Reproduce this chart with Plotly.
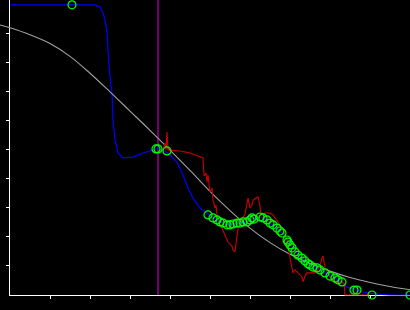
import plotly.graph_objects as go

# Gray smooth reference curve
gray_x = [-0.25, 0, 0.5, 1, 1.5, 2, 2.5, 3, 3.5, 4, 4.5, 5, 5.5, 6, 6.5, 7, 7.5, 8, 8.5, 9, 9.5, 10]
gray_y = [9.28, 9.18, 8.94, 8.64, 8.20, 7.62, 6.98, 6.32, 5.66, 4.98, 4.28, 3.56, 2.90, 2.30, 1.80,
          1.40, 1.08, 0.82, 0.60, 0.43, 0.29, 0.18]

# Blue fitted curve
blue_x = [0, 2.125, 2.25, 2.325, 2.375, 2.425, 2.45, 2.5, 2.55, 2.575, 2.625, 2.7, 2.825, 3.075, 3.325,
          3.575, 3.675, 3.925, 4.175, 4.325, 4.45, 4.575, 4.75, 4.95, 5.075, 5.25, 5.425, 5.575, 5.75,
          5.925, 6.05, 6.25, 6.375, 6.5, 6.675, 6.8, 6.925, 7.05, 7.175, 7.3, 7.425, 7.575, 7.75, 7.925,
          8.075, 8.2, 8.3, 8.425, 8.675, 8.925, 9.175, 9.5, 10]
blue_y = [9.97, 9.97, 9.90, 9.69, 9.45, 9.00, 8.42, 7.49, 6.94, 6.01, 5.33, 4.88, 4.71, 4.74, 4.88,
          4.98, 5.02, 4.91, 4.57, 4.12, 3.68, 3.33, 2.99, 2.78, 2.68, 2.51, 2.41, 2.44, 2.47,
          2.51, 2.61, 2.68, 2.61, 2.47, 2.27, 2.13, 1.89, 1.65, 1.44, 1.27, 1.13, 1.00, 0.89, 0.76,
          0.65, 0.52, 0.45, 0.27, 0.17, 0.07, 0.03, 0.0, 0.0]

# Red noisy series
red_x = [3.75, 3.825, 3.875, 3.9, 3.925, 3.95, 4.25, 4.5, 4.825, 4.85, 4.9, 4.925, 4.95, 4.975, 5.0,
         5.05, 5.075, 5.125, 5.15, 5.175, 5.25, 5.375, 5.45, 5.55, 5.575, 5.625, 5.675, 5.7, 5.75,
         5.8, 5.875, 5.925, 5.95, 6.0, 6.05, 6.075, 6.175, 6.2, 6.25, 6.275, 6.375, 6.5, 6.575, 6.7,
         6.8, 6.925, 6.95, 7.0, 7.05, 7.075, 7.125, 7.25, 7.3, 7.325, 7.375, 7.425, 7.55, 7.625, 7.7,
         7.75, 7.8, 7.825, 7.875, 7.95, 8.0, 8.125, 8.25, 8.35, 8.375, 8.95]
red_y = [4.98, 4.98, 5.22, 4.98, 5.60, 4.98, 4.95, 4.88, 4.71, 4.09, 4.19, 3.88, 4.12, 3.71, 3.54,
         3.68, 3.26, 2.99, 3.09, 2.75, 2.44, 2.06, 1.82, 1.68, 1.55, 1.48, 1.96, 2.30, 2.54,
         2.58, 2.78, 3.09, 3.33, 2.99, 3.09, 3.26, 3.33, 3.37, 3.06, 2.75, 2.82, 2.82, 2.75, 2.51,
         2.27, 1.92, 1.65, 1.31, 0.96, 0.76, 0.86, 0.69, 0.62, 0.45, 0.65, 0.76, 0.76, 0.76, 0.86,
         1.00, 1.27, 1.34, 0.93, 0.76, 0.62, 0.45, 0.41, 0.41, 0.0, 0.0]

# Green sample points
pts_x = [1.55, 3.65, 3.7, 3.925, 4.95, 5.075, 5.175, 5.25, 5.325, 5.425, 5.5, 5.575, 5.675, 5.75,
         5.825, 5.925, 6.0, 6.05, 6.1, 6.25, 6.325, 6.425, 6.5, 6.575, 6.675, 6.75, 6.8, 6.925, 6.95,
         7.0, 7.05, 7.125, 7.2, 7.3, 7.375, 7.45, 7.5, 7.575, 7.675, 7.75, 7.875, 8.0, 8.125, 8.2,
         8.3, 8.6, 8.675, 9.05, 10.0]
pts_y = [9.97, 5.02, 5.02, 4.95, 2.75, 2.65, 2.58, 2.51, 2.47, 2.41, 2.41, 2.44, 2.47, 2.47,
         2.51, 2.51, 2.58, 2.65, 2.61, 2.68, 2.65, 2.58, 2.47, 2.41, 2.30, 2.20, 2.13, 1.89, 1.82,
         1.72, 1.62, 1.48, 1.37, 1.27, 1.17, 1.07, 1.03, 0.96, 0.93, 0.86, 0.76, 0.65, 0.58, 0.52,
         0.45, 0.17, 0.17, 0.0, 0.0]

# Vertical marker position
vline_x = 3.7

Y_TOP = 10.137
Y_BOT = -0.5155

fig = go.Figure()

# dummy trace so the visible frame subplot exists
fig.add_trace(go.Scatter(x=[0], y=[0], mode="markers", marker=dict(opacity=0),
                         xaxis="x", yaxis="y", hoverinfo="skip", showlegend=False))

fig.add_trace(go.Scatter(x=[vline_x, vline_x], y=[0, Y_TOP], mode="lines",
                         line=dict(color="#990099", width=1.5),
                         xaxis="x2", yaxis="y2", showlegend=False))
fig.add_trace(go.Scatter(x=blue_x, y=blue_y, mode="lines",
                         line=dict(color="#0000ff", width=1.2),
                         xaxis="x2", yaxis="y2", showlegend=False))
fig.add_trace(go.Scatter(x=gray_x, y=gray_y, mode="lines", line_shape="spline",
                         line=dict(color="#a0a0a0", width=1.1),
                         xaxis="x2", yaxis="y2", showlegend=False))
fig.add_trace(go.Scatter(x=red_x, y=red_y, mode="lines",
                         line=dict(color="#cc0000", width=1.1),
                         xaxis="x2", yaxis="y2", showlegend=False))
fig.add_trace(go.Scatter(x=pts_x, y=pts_y, mode="markers", cliponaxis=False,
                         marker=dict(symbol="circle-open", size=8, color="#00ff00",
                                     line=dict(width=1.2, color="#00ff00")),
                         xaxis="x2", yaxis="y2", showlegend=False))

axis_style = dict(showline=True, linecolor="white", linewidth=1, ticks="outside",
                  ticklen=3, tickwidth=1, tickcolor="white", showticklabels=False,
                  showgrid=False, zeroline=False, fixedrange=True)

fig.update_layout(
    width=410, height=310, autosize=False,
    margin=dict(l=0, r=0, t=0, b=0, pad=0),
    paper_bgcolor="black", plot_bgcolor="rgba(0,0,0,0)",
    showlegend=False,
    xaxis=dict(domain=[10 / 410, 1], range=[0, 10], tickvals=list(range(1, 10)),
               anchor="y", **axis_style),
    yaxis=dict(domain=[15 / 310, 1], range=[0, Y_TOP], tickvals=list(range(1, 10)),
               anchor="x", **axis_style),
    xaxis2=dict(domain=[0, 1], range=[-0.25, 10], visible=False, anchor="y2"),
    yaxis2=dict(domain=[0, 1], range=[Y_BOT, Y_TOP], visible=False, anchor="x2"),
)

fig.write_html("out.html")
